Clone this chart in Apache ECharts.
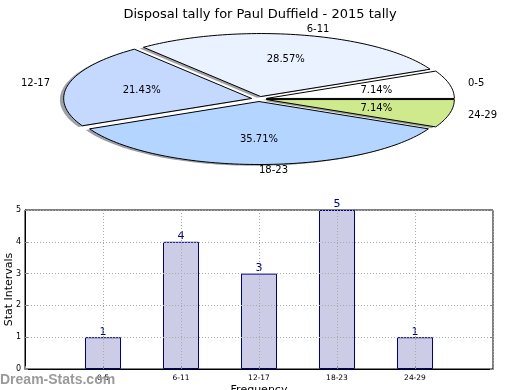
<!DOCTYPE html>
<html>
<head>
<meta charset="utf-8">
<script src="https://cdn.jsdelivr.net/npm/echarts@6/dist/echarts.min.js"></script>
<style>
html,body{margin:0;padding:0;background:#fff;}
#chart{width:520px;height:390px;}
</style>
</head>
<body>
<div id="chart"></div>
<script>
// ---- data ----
const titleText = 'Disposal tally for Paul Duffield - 2015 tally';
const categories = ['0-5', '6-11', '12-17', '18-23', '24-29'];
const counts = [1, 4, 3, 5, 1];
const pieColors = ['#ffffff', '#eaf1ff', '#c5d9ff', '#b3d5ff', '#cfea8c'];
const yTicks = [0, 1, 2, 3, 4, 5];

// ---- layout / style ----
const FONT = 'DejaVu Sans';
const PIE = { cx: 259, cy: 99, a: 188, b: 63, explode: 0.04, shadow: 0.02, pctDist: 0.6, lblDist: 1.1 };
const total = counts.reduce((s, v) => s + v, 0);

function hexRgb(h) {
  return [parseInt(h.slice(1, 3), 16), parseInt(h.slice(3, 5), 16), parseInt(h.slice(5, 7), 16)];
}

function wedge(idx, value) {
  let start = 0;
  for (let i = 0; i < idx; i++) start += counts[i];
  const t1 = start / total * 360, t2 = (start + value) / total * 360;
  const mid = (t1 + t2) / 2 * Math.PI / 180;
  const ox = PIE.cx + PIE.explode * PIE.a * Math.cos(mid);
  const oy = PIE.cy - PIE.explode * PIE.b * Math.sin(mid);
  const pts = [[ox, oy]];
  const n = Math.max(4, Math.ceil((t2 - t1) / 1.5));
  for (let k = 0; k <= n; k++) {
    const t = (t1 + (t2 - t1) * k / n) * Math.PI / 180;
    pts.push([ox + PIE.a * Math.cos(t), oy - PIE.b * Math.sin(t)]);
  }
  return { pts, mid, ox, oy, frac: value / total };
}

const chart = echarts.init(document.getElementById('chart'), null, { renderer: 'canvas' });

const option = {
  animation: false,
  title: {
    text: titleText, left: 'center', top: 3,
    textStyle: { fontFamily: FONT, fontSize: 13, fontWeight: 'normal', color: '#000' }
  },
  grid: {
    left: 25, right: 27, top: 210, bottom: 21, show: true, borderColor: '#000', borderWidth: 1,
    containLabel: false, outerBoundsMode: 'none'
  },
  xAxis: {
    type: 'value', min: -1, max: 5, interval: 1, z: 3,
    name: 'Frequency', nameLocation: 'middle', nameGap: 16, nameMoveOverlap: false,
    nameTextStyle: { fontFamily: FONT, fontSize: 11, color: '#000' },
    axisLine: { show: true, onZero: false, lineStyle: { color: '#000' } },
    axisTick: { show: true, inside: true, length: 3, lineStyle: { color: '#888' } },
    axisLabel: {
      fontFamily: FONT, fontSize: 7.5, color: '#000', margin: 5,
      formatter: v => (categories[v] !== undefined ? categories[v] : '')
    },
    splitLine: { show: true, lineStyle: { color: '#aaa', type: [1, 2], width: 1 } }
  },
  yAxis: [{
    type: 'value', min: yTicks[0], max: yTicks[yTicks.length - 1], interval: 1, z: 3,
    name: 'Stat Intervals', nameLocation: 'middle', nameGap: 10, nameMoveOverlap: false,
    nameTextStyle: { fontFamily: FONT, fontSize: 11, color: '#000' },
    axisLine: { show: true, onZero: false, lineStyle: { color: '#000' } },
    axisTick: { show: true, inside: true, length: 3, lineStyle: { color: '#888' } },
    axisLabel: { fontFamily: FONT, fontSize: 8, color: '#000', margin: 4 },
    splitLine: { show: true, lineStyle: { color: '#aaa', type: [1, 2], width: 1 } }
  }, {
    type: 'value', min: yTicks[0], max: yTicks[yTicks.length - 1], interval: 1, position: 'right', z: 3,
    axisLine: { show: false, onZero: false }, axisLabel: { show: false }, splitLine: { show: false },
    axisTick: { show: true, inside: true, length: 3, lineStyle: { color: '#888' } }
  }],
  graphic: [{
    type: 'text', left: 0, top: 373, z: 10,
    style: { text: 'Dream-Stats.com', fontFamily: 'Liberation Sans', fontWeight: 'bold', fontSize: 14, fill: '#9a9a9a' }
  }],
  series: [
    {
      type: 'bar', xAxisIndex: 0, yAxisIndex: 0, barWidth: 36, silent: true,
      data: counts.map((v, i) => [i, v]),
      itemStyle: { color: '#ccccE6', borderColor: '#000080', borderWidth: 1 },
      label: { show: true, position: 'top', distance: 0, color: '#000080', fontFamily: FONT, fontSize: 11 }
    },
    {
      type: 'custom', coordinateSystem: 'none', silent: true, z: 1,
      data: counts.map((v, i) => [v, i]),
      renderItem: function (params, api) {
        const g = wedge(params.dataIndex, api.value(0));
        const rgb = hexRgb(pieColors[params.dataIndex]);
        const dx = -PIE.shadow * PIE.a, dy = PIE.shadow * PIE.b;
        return {
          type: 'polygon',
          shape: { points: g.pts.map(p => [p[0] + dx, p[1] + dy]) },
          style: { fill: 'rgba(' + rgb.map(c => Math.round(c * 0.3)).join(',') + ',0.5)', stroke: null }
        };
      }
    },
    {
      type: 'custom', coordinateSystem: 'none', silent: true, z: 2,
      data: counts.map((v, i) => [v, i]),
      renderItem: function (params, api) {
        const idx = params.dataIndex;
        const g = wedge(idx, api.value(0));
        const c = Math.cos(g.mid), s = Math.sin(g.mid);
        const px = g.ox + PIE.pctDist * PIE.a * c, py = g.oy - PIE.pctDist * PIE.b * s;
        const lx = g.ox + PIE.lblDist * PIE.a * c, ly = g.oy - PIE.lblDist * PIE.b * s;
        const align = (PIE.lblDist * c > -1e-9) ? 'left' : 'right';
        return {
          type: 'group',
          children: [
            {
              type: 'polygon', shape: { points: g.pts },
              style: { fill: pieColors[idx], stroke: '#000', lineWidth: 1 }
            },
            {
              type: 'text', x: px, y: py,
              style: { text: (g.frac * 100).toFixed(2) + '%', align: 'center', verticalAlign: 'middle',
                       fontFamily: FONT, fontSize: 10, fill: '#000' }
            },
            {
              type: 'text', x: lx, y: ly,
              style: { text: categories[idx], align: align, verticalAlign: 'middle',
                       fontFamily: FONT, fontSize: 10, fill: '#000' }
            }
          ]
        };
      }
    }
  ]
};
chart.setOption(option);
</script>
</body>
</html>
